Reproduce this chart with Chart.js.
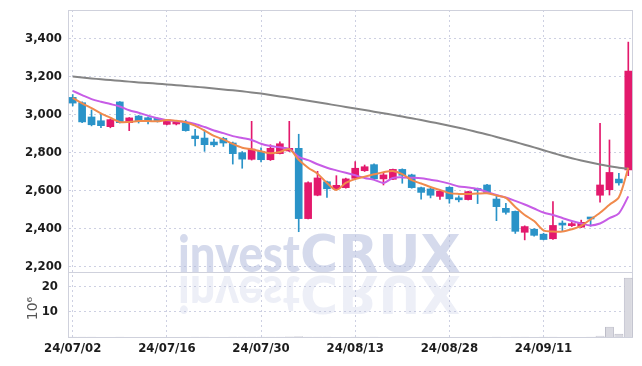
<!DOCTYPE html>
<html>
<head>
<meta charset="utf-8">
<script src="https://cdn.jsdelivr.net/npm/chart.js@4.4.1/dist/chart.umd.min.js"></script>
<style>
  html, body { margin:0; padding:0; background:#fff; }
  #wrap { width:642px; height:366px; position:relative; }
</style>
</head>
<body>
<div id="wrap"><canvas id="chart"></canvas></div>
<script>
/* daily candles, 24/07/02 - 24/09/27 */
const DATES = ['24/07/02','24/07/03','24/07/04','24/07/05','24/07/08','24/07/09','24/07/10','24/07/11','24/07/12','24/07/15',
  '24/07/16','24/07/17','24/07/18','24/07/19','24/07/22','24/07/23','24/07/24','24/07/25','24/07/26','24/07/29',
  '24/07/30','24/07/31','24/08/01','24/08/02','24/08/05','24/08/06','24/08/07','24/08/08','24/08/09','24/08/12',
  '24/08/13','24/08/14','24/08/16','24/08/19','24/08/20','24/08/21','24/08/22','24/08/23','24/08/26','24/08/27',
  '24/08/28','24/08/29','24/08/30','24/09/02','24/09/03','24/09/04','24/09/05','24/09/06','24/09/09','24/09/10',
  '24/09/11','24/09/12','24/09/13','24/09/19','24/09/20','24/09/23','24/09/24','24/09/25','24/09/26','24/09/27'];

const OPEN  = [3090,3062,2987,2967,2936,3066,2957,2992,2983,2980, 2948,2950,2954,2887,2876,2855,2874,2850,2799,2764,
               2806,2762,2794,2808,2822,2452,2575,2646,2609,2615, 2664,2704,2736,2661,2659,2711,2682,2615,2608,2569,
               2617,2561,2552,2610,2629,2555,2506,2490,2380,2396, 2370,2346,2425,2415,2407,2455,2575,2604,2660,2708];
const HIGH  = [3105,3066,3024,3006,2975,3068,2984,2995,2988,2982, 2972,2965,2970,2922,2918,2870,2880,2855,2805,2964,
               2825,2841,2856,2964,2896,2645,2701,2650,2678,2665, 2752,2734,2740,2693,2713,2714,2686,2618,2612,2600,
               2620,2572,2596,2613,2632,2570,2533,2492,2414,2400, 2375,2542,2440,2432,2444,2456,2954,2866,2690,3381];
const LOW   = [3045,2957,2940,2931,2930,2955,2915,2955,2950,2960, 2945,2945,2912,2834,2806,2830,2832,2739,2717,2760,
               2750,2758,2792,2805,2383,2450,2572,2564,2606,2612, 2660,2700,2658,2629,2657,2638,2612,2554,2561,2553,
               2533,2540,2550,2531,2587,2441,2475,2374,2340,2360, 2340,2343,2385,2410,2405,2412,2538,2576,2628,2678];
const CLOSE = [3060,2961,2946,2941,2973,2957,2982,2964,2966,2968, 2971,2962,2915,2873,2841,2840,2850,2794,2765,2818,
               2762,2822,2846,2822,2452,2641,2666,2609,2627,2661, 2717,2725,2661,2682,2711,2680,2615,2590,2575,2597,
               2556,2551,2594,2600,2589,2515,2485,2385,2410,2364, 2342,2416,2418,2425,2432,2450,2629,2695,2640,3229];
// volume, millions of shares
const VOLUME = [0.06,0.05,0.05,0.04,0.04,0.06,0.04,0.04,0.03,0.03, 0.04,0.03,0.04,0.05,0.05,0.04,0.04,0.06,0.05,0.08,
                0.05,0.05,0.05,0.15,0.30,0.08,0.06,0.05,0.04,0.04, 0.05,0.04,0.05,0.04,0.04,0.04,0.04,0.04,0.03,0.03,
                0.04,0.03,0.03,0.04,0.03,0.05,0.04,0.06,0.05,0.04, 0.05,0.08,0.04,0.03,0.04,0.05,0.50,4.10,1.30,23.7];

const MA5   = [3088,3059,3033,3006,2983,2961,2961,2966,2966,2964, 2971,2967,2959,2941,2915,2887,2869,2845,2825,2817,
               2806,2796,2803,2818,2762,2720,2688,2640,2603,2640, 2660,2673,2685,2696,2703,2686,2654,2637,2618,2603,
               2586,2582,2582,2584,2585,2574,2561,2513,2471,2439, 2390,2384,2384,2396,2414,2448,2483,2525,2564,2720];
const MA10  = [3124,3102,3081,3067,3055,3042,3022,3009,2994,2980, 2970,2965,2961,2950,2934,2916,2902,2886,2876,2866,
               2846,2834,2827,2819,2777,2760,2738,2720,2706,2693, 2680,2666,2656,2640,2666,2669,2667,2664,2656,2648,
               2636,2621,2616,2608,2592,2576,2563,2545,2526,2505, 2484,2471,2455,2439,2426,2416,2426,2454,2480,2569];
const MA120 = [3200,3195,3190,3185,3181,3177,3173,3169,3166,3162, 3158,3154,3150,3146,3142,3137,3132,3127,3122,3116,
               3110,3103,3095,3088,3080,3072,3064,3056,3048,3040, 3032,3024,3015,3007,2998,2989,2980,2971,2961,2951,
               2941,2930,2919,2907,2895,2882,2868,2855,2841,2827, 2812,2797,2783,2770,2758,2747,2737,2727,2720,2714];

const PRICE_TICKS = [2200,2400,2600,2800,3000,3200,3400];
const VOL_TICKS = [10,20];

const C = {
  up:'#e3196c', down:'#2a93c8',
  ma5:'#f08a4c', ma10:'#c75ce6', ma120:'#858585',
  grid:'#cdd0e2', frame:'#cfd1dc', text:'#1c1c1c',
  vol:'#d9d9e0', volBorder:'#bcbcc8'
};

const candleColor = OPEN.map((o, i) => CLOSE[i] >= o ? C.up : C.down);
const tickFont = {family:'"DejaVu Sans Condensed", "Liberation Sans Narrow", Roboto, sans-serif',
  size:13, weight:'bold'};

// watermark, frame and the 10^6 unit label
const decor = {
  id:'decor',
  beforeDatasetsDraw(chart){
    const ctx = chart.ctx, a = chart.chartArea;
    const split = chart.scales.yv.top;
    ctx.save();
    ctx.textBaseline = 'alphabetic';
    const drawMark = (alpha) => {
      ctx.fillStyle = `rgba(172,182,218,${alpha})`;
      ctx.font = '900 52px Lato';
      ctx.fillText('invest', 178, split, 122);
      ctx.font = 'bold 52px "DejaVu Sans"';
      ctx.fillText('CRUX', 300, split, 162);
    };
    drawMark(0.5);
    ctx.translate(0, split * 2 + 4);
    ctx.scale(1, -1);
    drawMark(0.22);
    ctx.restore();

    ctx.save();
    ctx.strokeStyle = C.frame;
    ctx.lineWidth = 1;
    ctx.strokeRect(Math.round(a.left) + 0.5, Math.round(a.top) + 0.5,
      Math.round(a.right - a.left) - 1, Math.round(a.bottom - a.top));
    ctx.beginPath();
    ctx.moveTo(a.left, Math.round(split) + 0.5);
    ctx.lineTo(a.right, Math.round(split) + 0.5);
    ctx.stroke();
    ctx.restore();
  },
  afterDraw(chart){
    const ctx = chart.ctx, yv = chart.scales.yv;
    ctx.save();
    ctx.translate(33, (yv.top + yv.bottom) / 2 + 4);
    ctx.rotate(-Math.PI / 2);
    ctx.fillStyle = '#555';
    ctx.font = '14px "DejaVu Sans"';
    ctx.textAlign = 'center';
    ctx.textBaseline = 'middle';
    ctx.fillText('10\u2076', 0, 0);
    ctx.restore();
  }
};

function fixWidth(s){
  s.width = 68;
  s.paddingTop = 0;
  s.paddingBottom = 0;
}

new Chart(document.getElementById('chart'), {
  type:'bar',
  data:{
    labels:DATES,
    datasets:[
      {type:'line', label:'MA5', data:MA5, yAxisID:'y', borderColor:C.ma5, borderWidth:2,
       pointRadius:0, tension:0.3, order:1},
      {type:'line', label:'MA10', data:MA10, yAxisID:'y', borderColor:C.ma10, borderWidth:2,
       pointRadius:0, tension:0.3, order:2},
      {type:'line', label:'MA120', data:MA120, yAxisID:'y', borderColor:C.ma120, borderWidth:2,
       pointRadius:0, tension:0.3, order:3},
      {label:'body', data:OPEN.map((o, i) => [o, CLOSE[i]]), yAxisID:'y',
       backgroundColor:candleColor, barThickness:7, minBarLength:2, grouped:false, order:4},
      {label:'wick', data:LOW.map((l, i) => [l, HIGH[i]]), yAxisID:'y',
       backgroundColor:candleColor, barThickness:1, grouped:false, order:5},
      {label:'volume', data:VOLUME, yAxisID:'yv', backgroundColor:C.vol, borderColor:C.volBorder,
       borderWidth:1, borderSkipped:'bottom', barPercentage:0.95, categoryPercentage:1, grouped:false, order:6}
    ]
  },
  options:{
    responsive:true, maintainAspectRatio:false, animation:false,
    layout:{padding:{top:10, right:9, left:0, bottom:0}},
    plugins:{legend:{display:false}, tooltip:{enabled:false}},
    scales:{
      x:{
        offset:true,
        grid:{offset:false, color:C.grid, drawTicks:false},
        border:{display:false, dash:[2,3]},
        ticks:{autoSkip:false, maxRotation:0, padding:4, font:tickFont, color:C.text,
          callback:(v, i) => i % 10 === 0 ? DATES[i] : null},
        afterFit(s){ s.height = 29; s.paddingLeft = 0; s.paddingRight = 0; }
      },
      yv:{
        position:'left', stack:'panes', stackWeight:1,
        min:0, max:26,
        grid:{color:C.grid, drawTicks:false},
        border:{display:true, color:'#c2c4d4', dash:[2,3]},
        ticks:{autoSkip:false, padding:10, font:tickFont, color:C.text, callback:v => String(v)},
        afterBuildTicks(s){ s.ticks = VOL_TICKS.map(v => ({value:v})); },
        afterFit:fixWidth
      },
      y:{
        position:'left', stack:'panes', stackWeight:4.03,
        min:2171, max:3550,
        grid:{color:C.grid, drawTicks:false},
        border:{display:true, color:'#c2c4d4', dash:[2,3]},
        ticks:{autoSkip:false, padding:6, font:tickFont, color:C.text, callback:v => v.toLocaleString('en-US')},
        afterBuildTicks(s){ s.ticks = PRICE_TICKS.map(v => ({value:v})); },
        afterFit:fixWidth
      }
    }
  },
  plugins:[decor]
});
</script>
</body>
</html>
